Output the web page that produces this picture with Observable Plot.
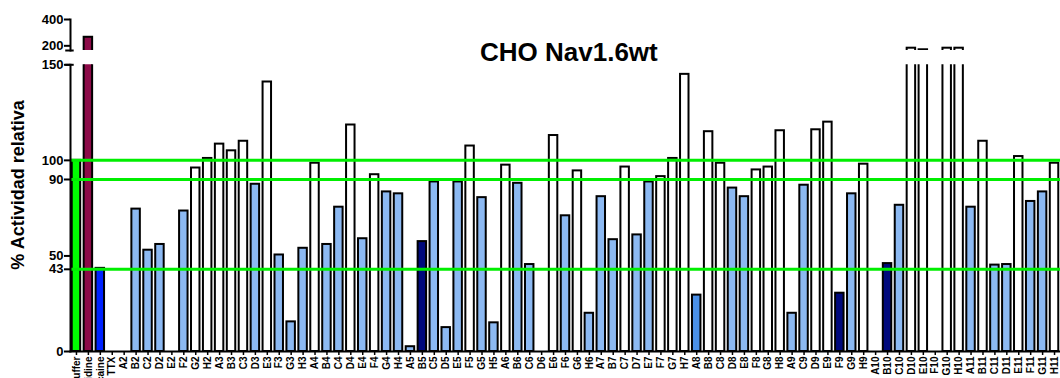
<!DOCTYPE html>
<html>
<head>
<meta charset="utf-8">
<script src="https://cdn.jsdelivr.net/npm/d3@7"></script>
<script src="https://cdn.jsdelivr.net/npm/@observablehq/plot@0.6"></script>
<style>
  html, body { margin: 0; padding: 0; background: #fff; overflow: hidden; }
  #wrap { position: relative; width: 1060px; height: 378px; font-family: "Liberation Sans", Arial, sans-serif; }
  #upper { position: absolute; left: 0; top: 0; }
  #lower { position: absolute; left: 0; top: 56px; }
  #title { position: absolute; left: 480px; top: 39px; font-size: 26px; line-height: 26px; font-weight: bold; white-space: nowrap; color: #000; }
  #ylabel { position: absolute; left: 18.3px; top: 185px; transform: translate(-50%, -50%) rotate(-90deg); font-size: 18px; line-height: 18px; font-weight: bold; white-space: nowrap; color: #000; }
</style>
</head>
<body>
<div id="wrap">
  <div id="upper"></div>
  <div id="lower"></div>
  <div id="title">CHO Nav1.6wt</div>
  <div id="ylabel">% Actividad relativa</div>
</div>
<script>
// ---- Data ----
const categories = ["Buffer","Veratridine","Lidocaine","TTX",
  "A2","B2","C2","D2","E2","F2","G2","H2",
  "A3","B3","C3","D3","E3","F3","G3","H3",
  "A4","B4","C4","D4","E4","F4","G4","H4",
  "A5","B5","C5","D5","E5","F5","G5","H5",
  "A6","B6","C6","D6","E6","F6","G6","H6",
  "A7","B7","C7","D7","E7","F7","G7","H7",
  "A8","B8","C8","D8","E8","F8","G8","H8",
  "A9","C9","D9","E9","F9","G9","H9",
  "A10","B10","C10","D10","E10","F10","G10","H10",
  "A11","B11","C11","D11","E11","F11","G11","H11"];

const values = [100, 265, 43.5, 0,
  0, 74.5, 53, 56, 0, 73.5, 96, 101,
  108.5, 105, 110, 87.5, 141, 50.5, 15.5, 54,
  98.5, 56, 75.5, 118.5, 59, 92.5, 83.5, 82.5,
  2.5, 57.5, 88.7, 12.5, 88.7, 107.5, 80.5, 15,
  97.5, 88, 45.5, 0, 113, 71, 94.5, 20,
  81, 58.5, 96.5, 61, 88.7, 91.5, 101, 145,
  29.5, 115, 98.5, 85.5, 81, 95, 96.5, 115.5,
  20, 87, 116, 120, 30.5, 82.5, 98,
  0, 46, 76.5, 182, 170, 0, 182, 182,
  75.5, 110, 45.2, 45.5, 102, 78.5, 83.5, 98.5];

const groups = ["buffer","veratridina","bloqueador","bloqueador",
  "inactivo","activo","activo","activo","inactivo","activo","inactivo","inactivo",
  "inactivo","inactivo","inactivo","activo","inactivo","activo","activo","activo",
  "inactivo","activo","activo","inactivo","activo","inactivo","activo","activo",
  "activo","fuerte","activo","activo","activo","inactivo","activo","activo",
  "inactivo","activo","activo","inactivo","inactivo","activo","inactivo","activo",
  "activo","activo","inactivo","activo","activo","inactivo","inactivo","inactivo",
  "medio","inactivo","inactivo","activo","activo","inactivo","inactivo","inactivo",
  "activo","activo","inactivo","inactivo","fuerte","activo","inactivo",
  "inactivo","fuerte","activo","inactivo","inactivo","inactivo","inactivo","inactivo",
  "activo","inactivo","activo","activo","inactivo","activo","activo","inactivo"];

const groupNames = ["buffer","veratridina","bloqueador","inactivo","activo","fuerte","medio"];
const thresholds = [100, 90, 43];
const ticksLower = [0, 43, 50, 90, 100, 150];
const ticksUpper = [200, 400];
const domainLower = [0, 150];
const domainUpper = [164.5, 400];

const data = categories.map((c, i) => ({cat: c, val: values[i], grp: groups[i]}));

// ---- Styles ----
const groupColors = ["#00ff00", "#8c0a48", "#0022ff", "#ffffff", "#8cb9f2", "#00097c", "#4a90e8"];
const font = {background: "transparent", fontFamily: "'Liberation Sans', Arial, sans-serif", fontWeight: "bold", overflow: "visible"};
const xScale = {domain: categories, paddingInner: 0.29, paddingOuter: 0.145, align: 0.5, axis: null};
const colorScale = {domain: groupNames, range: groupColors};

const upper = Plot.plot({
  width: 1060, height: 56,
  marginLeft: 70, marginRight: 0, marginTop: 19, marginBottom: 6,
  style: font,
  x: xScale,
  y: {domain: domainUpper, axis: null},
  color: colorScale,
  marks: [
    Plot.barY(data, {x: "cat", y: "val", fill: "grp", stroke: "#000", strokeWidth: 2, clip: true}),
    Plot.axisY({ticks: ticksUpper, tickSize: 6, tickPadding: 1, fontSize: 13, strokeWidth: 2, label: null}),
    Plot.frame({anchor: "left", strokeWidth: 2}),
    Plot.tickY([{c: categories[0], v: domainUpper[0]}], {x: "c", y: "v", dx: -6.5, strokeWidth: 2})
  ]
});
document.getElementById("upper").append(upper);

const lower = Plot.plot({
  width: 1060, height: 322,
  marginLeft: 70, marginRight: 0, marginTop: 8.3, marginBottom: 27,
  style: font,
  x: xScale,
  y: {domain: domainLower, axis: null},
  color: colorScale,
  marks: [
    Plot.barY(data, {x: "cat", y: "val", fill: "grp", stroke: "#000", strokeWidth: 2, clip: true}),
    Plot.ruleY(thresholds, {stroke: "#00ee00", strokeWidth: 3}),
    Plot.axisY({ticks: ticksLower, tickSize: 6, tickPadding: 1, fontSize: 13, strokeWidth: 2, label: null}),
    Plot.axisX({tickRotate: -90, tickSize: 4, tickPadding: 1, fontSize: 10, strokeWidth: 1.5, label: null}),
    Plot.frame({anchor: "left", strokeWidth: 2}),
    Plot.frame({anchor: "bottom", strokeWidth: 2}),
    Plot.tickY([{c: categories[0], v: domainLower[1]}], {x: "c", y: "v", dx: -6.5, strokeWidth: 2})
  ]
});
document.getElementById("lower").append(lower);
</script>
</body>
</html>
